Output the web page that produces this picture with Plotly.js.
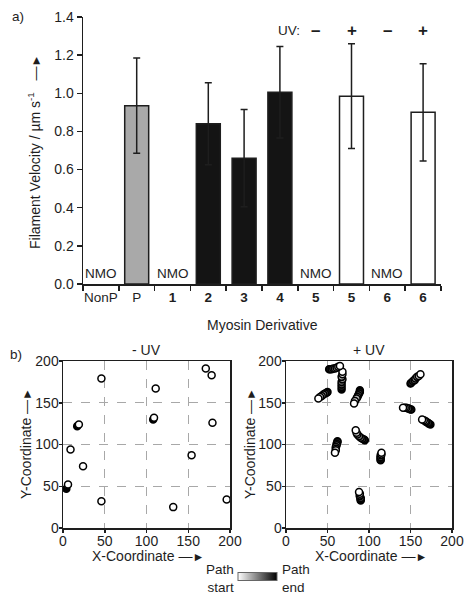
<!DOCTYPE html>
<html>
<head>
<meta charset="utf-8">
<script src="https://cdn.plot.ly/plotly-3.0.1.min.js"></script>
<style>html,body{margin:0;padding:0;background:#fff;}#chart{width:474px;height:606px;}</style>
</head>
<body>
<div id="chart"></div>
<script>
// ---- Panel a) data ----
const categories = ['NonP', 'P', '1', '2', '3', '4', '5', '5', '6', '6'];
const boldLabel = [false, false, true, true, true, true, true, true, true, true];
const velocity = [null, 0.935, null, 0.84, 0.66, 1.005, null, 0.985, null, 0.90];
const velocityErr = [null, 0.25, null, 0.215, 0.255, 0.24, null, 0.275, null, 0.255];
const barFill = ['#ffffff', '#a9a9a9', '#ffffff', '#141414', '#141414', '#141414', '#ffffff', '#ffffff', '#ffffff', '#ffffff'];
const nmoLabelIdx = [0, 2, 6, 8];
const uvSignIdx = [6, 7, 8, 9];
const uvSigns = ['\u2013', '+', '\u2013', '+'];
const yTicksA = [0, 0.2, 0.4, 0.6, 0.8, 1.0, 1.2, 1.4];

// ---- Panel b) data: path points, start -> end; t: 0 = path start, 1 = path end ----
const minusX = [46, 111, 171, 178, 19, 17, 109, 108, 179, 9, 24, 154, 6, 4, 46, 132, 196];
const minusY = [179, 167, 191, 183, 124, 122, 132, 130, 126, 94, 74, 87, 52, 47, 32, 25, 34];
const minusT = [0, 0, 0, 0, 0, 1, 0, 1, 0, 0, 0, 0, 0, 1, 0, 0, 0];

const plusX = [
  65, 63, 61, 59, 57, 55, 53, 52,
  68, 68, 67, 68, 67, 67, 67, 67,
  39, 41, 43, 45, 47, 49, 50,
  82, 83, 85, 86, 87, 88, 89, 89,
  162, 160, 158, 156, 155, 153, 151, 150,
  141, 143, 145, 147, 148, 150, 151,
  164, 166, 168, 169, 171, 172, 174,
  84, 85, 86, 88, 90, 92, 94, 95,
  59, 60, 60, 60, 61, 61, 62, 62,
  115, 115, 114, 114, 114, 114, 114,
  88, 89, 89, 89, 90, 90, 90, 90
];
const plusY = [
  194, 193, 192, 191, 191, 190, 190, 190,
  187, 184, 181, 178, 175, 172, 169, 166,
  155, 157, 158, 160, 161, 162, 163,
  149, 152, 155, 157, 159, 161, 163, 165,
  184, 182, 181, 179, 177, 176, 174, 173,
  144, 144, 144, 143, 143, 142, 142,
  130, 129, 128, 127, 126, 125, 124,
  117, 114, 112, 110, 108, 107, 106, 105,
  90, 93, 95, 97, 99, 101, 103, 104,
  90, 88, 87, 85, 84, 82, 81,
  43, 41, 39, 38, 36, 35, 34, 33
];
const plusT = [
  0, 0.14, 0.29, 0.43, 0.57, 0.71, 0.86, 1,
  0, 0.14, 0.29, 0.43, 0.57, 0.71, 0.86, 1,
  0, 0.17, 0.33, 0.5, 0.67, 0.83, 1,
  0, 0.14, 0.29, 0.43, 0.57, 0.71, 0.86, 1,
  0, 0.14, 0.29, 0.43, 0.57, 0.71, 0.86, 1,
  0, 0.17, 0.33, 0.5, 0.67, 0.83, 1,
  0, 0.17, 0.33, 0.5, 0.67, 0.83, 1,
  0, 0.14, 0.29, 0.43, 0.57, 0.71, 0.86, 1,
  0, 0.14, 0.29, 0.43, 0.57, 0.71, 0.86, 1,
  0, 0.17, 0.33, 0.5, 0.67, 0.83, 1,
  0, 0.14, 0.29, 0.43, 0.57, 0.71, 0.86, 1
];
const coordTicks = [0, 50, 100, 150, 200];

// ---- styling ----
const FONT = 'Liberation Sans, Arial, Helvetica, sans-serif';
const INK = '#1e1e1e';
const pathScale = [[0, '#ffffff'], [1, '#000000']];
const ARROW = ' \u2014<span style="font-size:12px">\u25BA</span>';

const idx = categories.map((_, i) => i);
const tickText = categories.map((c, i) => boldLabel[i] ? '<b>' + c + '</b>' : c);

// draw end points first so the path start sits on top
const rev = a => a.slice().reverse();

const traces = [
  {
    type: 'bar', x: idx, y: velocity, xaxis: 'x', yaxis: 'y',
    width: 0.67,
    marker: {color: barFill, line: {color: INK, width: 1.5}},
    error_y: {type: 'data', array: velocityErr, visible: true, color: INK, thickness: 1.5, width: 3.5},
    hoverinfo: 'none', showlegend: false
  },
  {
    type: 'scatter', mode: 'markers', x: rev(minusX), y: rev(minusY), xaxis: 'x2', yaxis: 'y2',
    marker: {size: 7, color: rev(minusT), colorscale: pathScale, cmin: 0, cmax: 1,
             line: {color: '#000', width: 1.5}},
    showlegend: false, hoverinfo: 'none'
  },
  {
    type: 'scatter', mode: 'markers', x: rev(plusX), y: rev(plusY), xaxis: 'x3', yaxis: 'y3',
    marker: {size: 7, color: rev(plusT), colorscale: pathScale, cmin: 0, cmax: 1,
             line: {color: '#000', width: 1.5},
             showscale: true,
             colorbar: {orientation: 'h', x: 0.5433, xanchor: 'center', y: 0.0475, yanchor: 'middle',
                        len: 39, lenmode: 'pixels', thickness: 8, thicknessmode: 'pixels',
                        showticklabels: false, ticks: '', outlinecolor: '#666', outlinewidth: 1,
                        xpad: 0, ypad: 0}},
    showlegend: false, hoverinfo: 'none'
  }
];

const coordAxis = (dom, anchor) => ({
  domain: dom, anchor: anchor, range: [0, 200], tickvals: coordTicks,
  ticks: 'outside', ticklen: 3, tickwidth: 1.5, tickcolor: INK, ticklabelstandoff: -3,
  showline: true, mirror: true, linecolor: INK, linewidth: 1.5,
  showgrid: true, gridcolor: '#a8a8a8', griddash: 'dash', gridwidth: 1,
  zeroline: false, fixedrange: true,
  tickfont: {family: FONT, size: 14, color: INK}
});

const txt = (x, y, text, extra) => Object.assign({
  xref: 'paper', yref: 'paper', x: x / 474, y: 1 - y / 606, xanchor: 'center', yanchor: 'middle',
  text: text, showarrow: false, font: {family: FONT, size: 14, color: INK}
}, extra || {});

const annotations = [];
nmoLabelIdx.forEach(i => annotations.push({
  xref: 'x', yref: 'y', x: i, y: 0, yanchor: 'bottom', yshift: 1, text: 'NMO', showarrow: false,
  font: {family: FONT, size: 13.5, color: INK}
}));
annotations.push({xref: 'x', yref: 'y', x: 5.62, y: 1.327, xanchor: 'right', text: 'UV:', showarrow: false,
  font: {family: FONT, size: 13.5, color: INK}});
uvSignIdx.forEach((i, k) => annotations.push({
  xref: 'x', yref: 'y', x: i, y: 1.327, text: '<b>' + uvSigns[k] + '</b>', showarrow: false,
  font: {family: FONT, size: 17, color: INK}
}));
annotations.push(txt(10, 17, 'a)', {xanchor: 'left', font: {family: FONT, size: 13.5, color: INK}}));
annotations.push(txt(8, 354, 'b)', {xanchor: 'left', font: {family: FONT, size: 13.5, color: INK}}));
annotations.push(txt(146.5, 350, '- UV'));
annotations.push(txt(369, 350, '+ UV'));
annotations.push(txt(34, 152, 'Filament Velocity / \u00b5m s<sup>-1</sup>  ' + ARROW, {textangle: -90}));
annotations.push(txt(262, 325, 'Myosin Derivative'));
annotations.push(txt(148, 556, 'X-Coordinate' + ARROW));
annotations.push(txt(371, 556, 'X-Coordinate' + ARROW));
annotations.push(txt(26, 444, 'Y-Coordinate' + ARROW, {textangle: -90}));
annotations.push(txt(250, 444, 'Y-Coordinate' + ARROW, {textangle: -90}));
annotations.push(txt(236, 578, 'Path<br>start', {xanchor: 'right', align: 'right', font: {family: FONT, size: 13.5, color: INK}}));
annotations.push(txt(280, 578, 'Path<br>end', {xanchor: 'left', align: 'left', font: {family: FONT, size: 13.5, color: INK}}));

const layout = {
  width: 474, height: 606,
  margin: {l: 0, r: 0, t: 0, b: 0},
  paper_bgcolor: '#fff', plot_bgcolor: '#fff',
  font: {family: FONT, color: INK},
  showlegend: false,
  xaxis: {
    domain: [83 / 474, 441 / 474], anchor: 'y', range: [-0.5, 9.5],
    tickvals: idx, ticktext: tickText, ticks: '', ticklen: 0,
    minor: {tick0: -0.5, dtick: 1, ticks: 'outside', ticklen: 5, tickwidth: 1.5, tickcolor: INK, showgrid: false},
    showline: true, linecolor: INK, linewidth: 1.5, showgrid: false, zeroline: false, fixedrange: true,
    tickfont: {family: FONT, size: 13.5, color: INK}
  },
  yaxis: {
    domain: [1 - 284 / 606, 1 - 17 / 606], anchor: 'x', range: [0, 1.4],
    tickvals: yTicksA, tickformat: '.1f', ticks: 'outside', ticklen: 5, tickwidth: 1.5, tickcolor: INK,
    showline: true, linecolor: INK, linewidth: 1.5, showgrid: false, zeroline: false, fixedrange: true,
    tickfont: {family: FONT, size: 14, color: INK}
  },
  xaxis2: coordAxis([63 / 474, 230 / 474], 'y2'),
  yaxis2: coordAxis([1 - 528 / 606, 1 - 361 / 606], 'x2'),
  xaxis3: coordAxis([286 / 474, 452 / 474], 'y3'),
  yaxis3: coordAxis([1 - 528 / 606, 1 - 361 / 606], 'x3'),
  annotations: annotations
};

Plotly.newPlot('chart', traces, layout, {displayModeBar: false, staticPlot: true});
</script>
</body>
</html>
